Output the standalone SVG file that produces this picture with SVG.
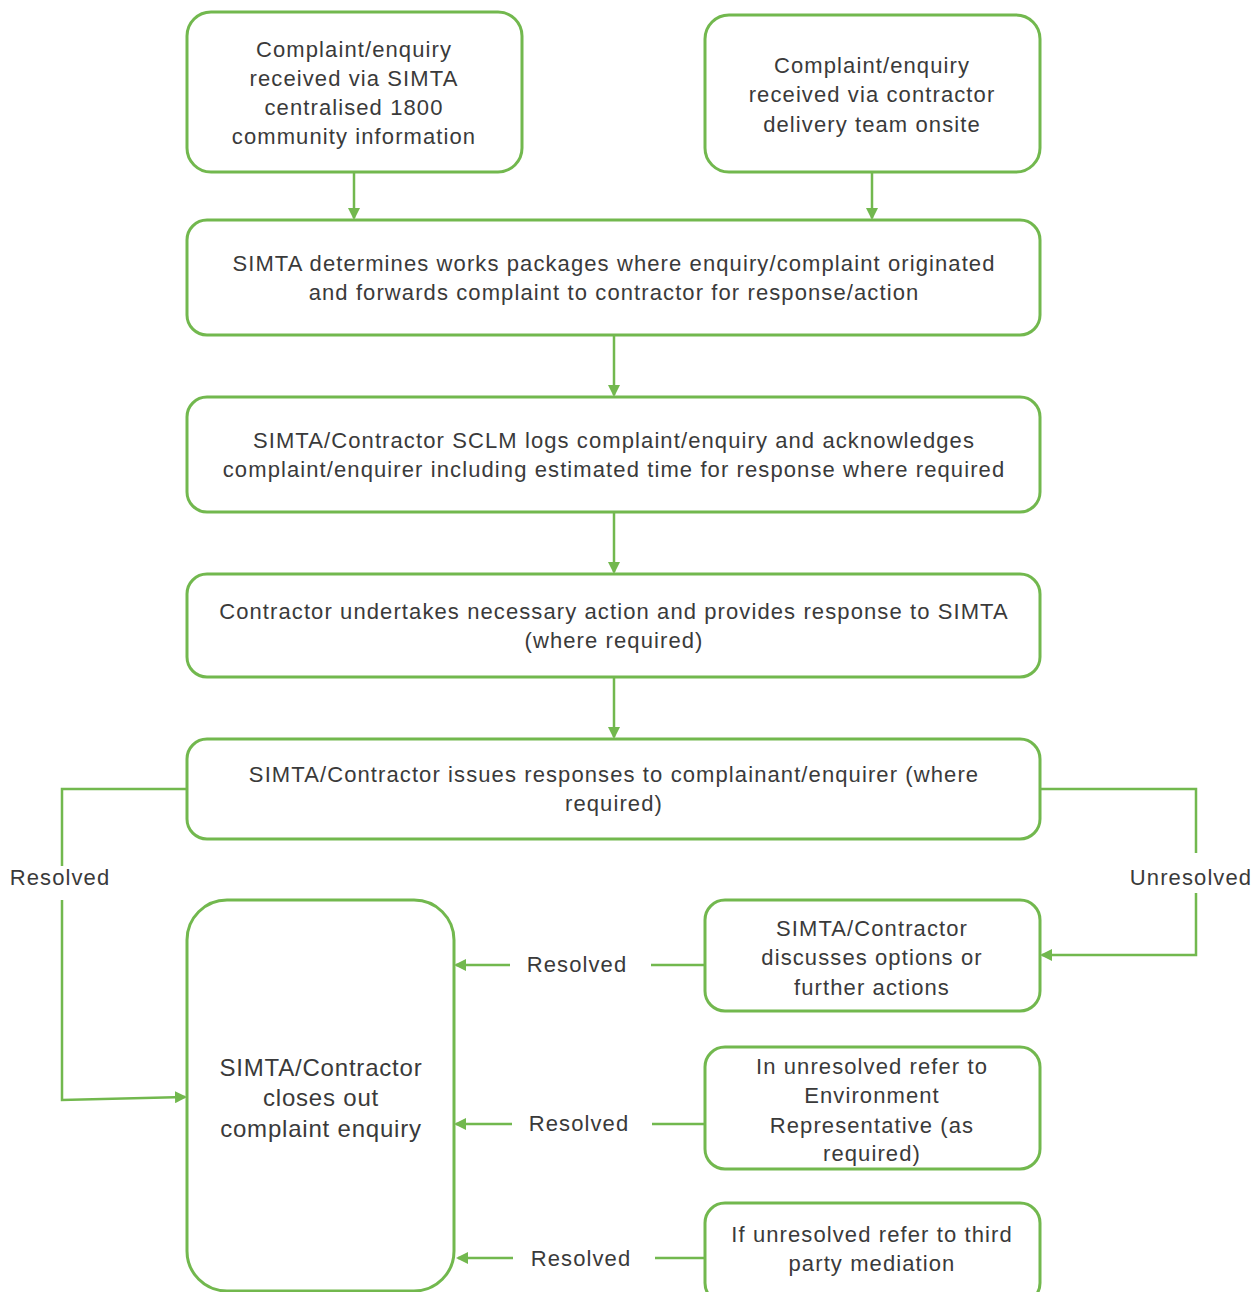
<svg xmlns="http://www.w3.org/2000/svg" width="1255" height="1292" viewBox="0 0 1255 1292">
<defs>
<style>
.box{fill:#fff;stroke:#72b84e;stroke-width:3}
.ln{fill:none;stroke:#72b84e;stroke-width:2.5}
text{font-family:"Liberation Sans",Arial,sans-serif;font-size:22px;letter-spacing:1.1px;fill:#3a3a3a;text-anchor:middle}
.big{font-size:24px;letter-spacing:0.8px}
</style>
<marker id="ah" markerWidth="12" markerHeight="12" refX="10" refY="6" orient="auto" markerUnits="userSpaceOnUse">
<path d="M0,0 L12,6 L0,12 z" fill="#72b84e"/>
</marker>
</defs>
<rect width="1255" height="1292" fill="#fff"/>
<g id="connectors">
<line class="ln" x1="354" y1="172" x2="354" y2="218" marker-end="url(#ah)"/>
<line class="ln" x1="872" y1="172" x2="872" y2="218" marker-end="url(#ah)"/>
<line class="ln" x1="614" y1="335" x2="614" y2="395" marker-end="url(#ah)"/>
<line class="ln" x1="614" y1="512" x2="614" y2="572" marker-end="url(#ah)"/>
<line class="ln" x1="614" y1="677" x2="614" y2="737" marker-end="url(#ah)"/>
<polyline class="ln" points="187,789 62,789 62,866"/>
<polyline class="ln" points="62,900 62,1100 185,1097" marker-end="url(#ah)"/>
<text x="60" y="885">Resolved</text>
<polyline class="ln" points="1040,789 1196,789 1196,853"/>
<polyline class="ln" points="1196,893 1196,955 1042,955" marker-end="url(#ah)"/>
<text x="1191" y="885">Unresolved</text>
<line class="ln" x1="705" y1="965" x2="651" y2="965"/>
<line class="ln" x1="510" y1="965" x2="456" y2="965" marker-end="url(#ah)"/>
<text x="577" y="972">Resolved</text>
<line class="ln" x1="705" y1="1124" x2="652" y2="1124"/>
<line class="ln" x1="512" y1="1124" x2="456" y2="1124" marker-end="url(#ah)"/>
<text x="579" y="1131">Resolved</text>
<line class="ln" x1="705" y1="1258" x2="655" y2="1258"/>
<line class="ln" x1="513" y1="1258" x2="458" y2="1258" marker-end="url(#ah)"/>
<text x="581" y="1266">Resolved</text>
</g>
<g id="n1"><rect class="box" x="187" y="12" width="335" height="160" rx="24"/>
<text x="354" y="57">Complaint/enquiry</text><text x="354" y="86">received via SIMTA</text><text x="354" y="115">centralised 1800</text><text x="354" y="144">community information</text></g>
<g id="n2"><rect class="box" x="705" y="15" width="335" height="157" rx="24"/>
<text x="872" y="73">Complaint/enquiry</text><text x="872" y="102">received via contractor</text><text x="872" y="132">delivery team onsite</text></g>
<g id="n3"><rect class="box" x="187" y="220" width="853" height="115" rx="20"/>
<text x="614" y="271">SIMTA determines works packages where enquiry/complaint originated</text><text x="614" y="300">and forwards complaint to contractor for response/action</text></g>
<g id="n4"><rect class="box" x="187" y="397" width="853" height="115" rx="20"/>
<text x="614" y="448">SIMTA/Contractor SCLM logs complaint/enquiry and acknowledges</text><text x="614" y="477">complaint/enquirer including estimated time for response where required</text></g>
<g id="n5"><rect class="box" x="187" y="574" width="853" height="103" rx="20"/>
<text x="614" y="619">Contractor undertakes necessary action and provides response to SIMTA</text><text x="614" y="648">(where required)</text></g>
<g id="n6"><rect class="box" x="187" y="739" width="853" height="100" rx="20"/>
<text x="614" y="782">SIMTA/Contractor issues responses to complainant/enquirer (where</text><text x="614" y="811">required)</text></g>
<g id="n7"><rect class="box" x="187" y="900" width="267" height="391" rx="40"/>
<text class="big" x="321" y="1076">SIMTA/Contractor</text><text class="big" x="321" y="1106">closes out</text><text class="big" x="321" y="1137">complaint enquiry</text></g>
<g id="n8"><rect class="box" x="705" y="900" width="335" height="111" rx="20"/>
<text x="872" y="936">SIMTA/Contractor</text><text x="872" y="965">discusses options or</text><text x="872" y="995">further actions</text></g>
<g id="n9"><rect class="box" x="705" y="1047" width="335" height="122" rx="20"/>
<text x="872" y="1074">In unresolved refer to</text><text x="872" y="1103">Environment</text><text x="872" y="1133">Representative (as</text><text x="872" y="1161">required)</text></g>
<g id="n10"><rect class="box" x="705" y="1203" width="335" height="100" rx="20"/>
<text x="872" y="1242">If unresolved refer to third</text><text x="872" y="1271">party mediation</text></g>
</svg>
